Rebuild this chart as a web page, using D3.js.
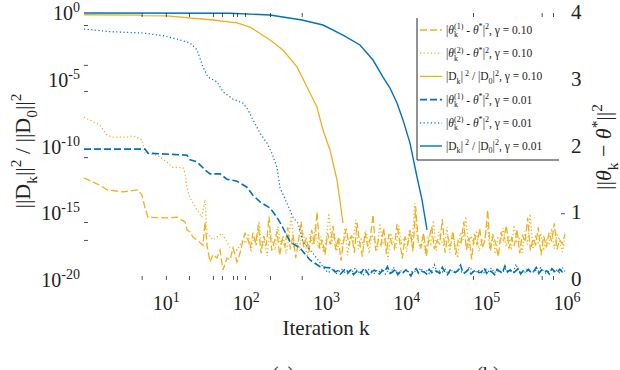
<!DOCTYPE html>
<html>
<head>
<meta charset="utf-8">
<script src="https://cdn.jsdelivr.net/npm/d3@7"></script>
<style>
	body { margin: 0; background: #fff; }
	svg { display: block; }
</style>
</head>
<body>
<div id="chart"></div>
<script>
'use strict';

// ---- data ----
// ||D_k||^2 / ||D_0||^2, left (log) axis
var dGamma001 = [[1, 1], [66, 0.95], [209, 0.71], [524, 0.30], [957, 0.126], [1702, 0.0224],
	[2773, 4e-3], [4028, 3e-4], [5370, 1.6e-5], [6561, 2.4e-6], [8020, 1.8e-7], [9530, 9.8e-9],
	[11650, 1.8e-10], [14250, 5.2e-13], [16450, 1e-14], [19000, 5.6e-17]];
var dGamma010 = [[1, 0.74], [5, 0.70], [5.2, 0.63], [10.8, 0.60], [40.6, 0.30], [81, 0.18],
	[118, 0.089], [209, 9.5e-3], [303, 1.7e-3], [454, 9.1e-5], [605, 2.9e-6], [805, 9.1e-8],
	[957, 1.7e-9], [1170, 5.5e-11], [1432, 3.1e-13], [1702, 1.9e-16]];

// ||theta_k - theta*||^2, right (linear) axis: decay part
var th1Gamma001 = [[1, 1.96], [5.77, 1.96], [6.29, 1.90], [19.3, 1.87], [21, 1.80], [25.7, 1.77],
	[32.3, 1.65], [37.3, 1.59], [49.7, 1.59], [60.8, 1.51], [81, 1.48], [108, 1.39], [128, 1.27],
	[157, 1.17], [209, 1.08], [255, 0.94], [295, 0.81], [372, 0.57], [494, 0.48], [659, 0.30],
	[879, 0.20], [1170, 0.18]];
var th2Gamma001 = [[1, 3.76], [2.11, 3.72], [5.44, 3.70], [9.67, 3.66], [14.5, 3.61], [21, 3.55],
	[25.7, 3.45], [30.5, 3.19], [35.2, 3.04], [45.6, 2.97], [54.2, 2.82], [72.3, 2.71], [96.2, 2.65],
	[111, 2.55], [128, 2.40], [157, 2.20], [192, 2.05], [221, 1.90], [255, 1.69], [279, 1.38],
	[340, 1.15], [405, 0.94], [467, 0.85], [539, 0.57], [718, 0.40], [879, 0.26]];
var th1Gamma010 = [[1, 1.53], [1.58, 1.42], [1.94, 1.35], [3.07, 1.32], [4.72, 1.35], [5.29, 1.27],
	[5.77, 1.08], [6.29, 0.94], [10.8, 0.93], [14.5, 0.94], [18.2, 0.87], [19.3, 0.75], [21, 0.72],
	[22.9, 0.64], [25.7, 0.60], [30.5, 0.52], [32.3, 0.87], [34.2, 0.52], [37.3, 0.27], [40.6, 0.38],
	[45.6, 0.33], [49.7, 0.45], [54.2, 0.15], [60.8, 0.33], [66.3, 0.30], [72.3, 0.48], [81, 0.27],
	[88.3, 0.40], [96.2, 0.60], [102, 0.70]];
var th2Gamma010 = [[1, 2.44], [1.58, 2.32], [1.94, 2.17], [2.3, 2.14], [3.44, 2.14], [4.09, 2.16],
	[5.29, 2.10], [5.77, 1.90], [8.14, 1.87], [10.8, 1.77], [12.5, 1.69], [17.2, 1.68], [18.2, 1.60],
	[19.3, 1.38], [21, 1.23], [25.7, 1.05], [29.6, 0.94], [32.3, 1.20], [34.2, 0.70], [40.6, 0.60],
	[52.6, 0.70], [66.3, 0.49], [81, 0.45], [96.2, 0.60]];

// noisy floors after convergence (one value per sample, samples log-spaced in k up to 1e6)
var th1Gamma010Tail = [0.62, 0.48, 0.71, 0.55, 0.83, 0.40, 0.66, 0.52, 0.95, 0.44, 0.58, 0.73, 0.37, 0.61, 0.50, 0.79, 0.46, 0.68, 0.33, 0.57,
	0.88, 0.49, 0.63, 0.42, 0.75, 0.54, 1.02, 0.47, 0.60, 0.38, 0.70, 0.53, 0.81, 0.45, 0.64, 0.29, 0.59, 0.77, 0.51, 0.67,
	0.41, 0.86, 0.56, 0.35, 0.72, 0.50, 0.63, 0.98, 0.44, 0.60, 0.52, 0.78, 0.39, 0.69, 0.55, 0.47, 0.84, 0.58, 0.32, 0.65,
	0.53, 0.74, 0.43, 1.10, 0.57, 0.49, 0.70, 0.36, 0.62, 0.80, 0.46, 0.59, 0.54, 0.91, 0.41, 0.66, 0.50, 0.73, 0.38, 0.61,
	0.56, 0.87, 0.45, 0.64, 0.31, 0.69, 0.52, 0.77, 0.48, 0.60, 1.05, 0.43, 0.67, 0.55, 0.35, 0.72, 0.58, 0.82, 0.47, 0.63,
	0.51, 0.76, 0.40, 0.68, 0.57, 0.93, 0.44, 0.62, 0.53, 0.79, 0.37, 0.66, 0.49, 0.71, 0.58, 0.85, 0.46, 0.60, 0.54, 0.69];
var th2Gamma010Tail = [0.55, 0.70, 0.42, 0.64, 0.51, 0.88, 0.47, 0.60, 0.36, 0.73, 0.58, 0.45, 0.80, 0.53, 0.67, 0.39, 0.62, 0.96, 0.50, 0.57,
	0.44, 0.75, 0.61, 0.34, 0.69, 0.52, 0.83, 0.48, 0.65, 0.41, 0.58, 1.00, 0.54, 0.71, 0.43, 0.63, 0.49, 0.78, 0.37, 0.66,
	0.56, 0.90, 0.46, 0.61, 0.52, 0.74, 0.40, 0.68, 0.59, 0.45, 0.85, 0.53, 0.64, 0.30, 0.70, 0.57, 0.48, 0.81, 0.55, 0.62,
	0.42, 0.76, 0.51, 1.15, 0.60, 0.47, 0.68, 0.38, 0.63, 0.54, 0.89, 0.44, 0.72, 0.58, 0.50, 0.79, 0.41, 0.65, 0.56, 0.33,
	0.71, 0.60, 0.95, 0.48, 0.66, 0.52, 0.74, 0.43, 0.61, 0.57, 0.86, 0.46, 0.69, 0.39, 0.63, 0.55, 0.78, 0.50, 0.67, 0.45,
	0.82, 0.58, 0.62, 0.41, 0.73, 0.53, 0.99, 0.48, 0.65, 0.56, 0.70, 0.44, 0.61, 0.52, 0.77, 0.47, 0.68, 0.59, 0.42, 0.64];
var th1Gamma001Tail = [0.16, 0.12, 0.14, 0.09, 0.13, 0.17, 0.11, 0.15, 0.08, 0.12, 0.14, 0.10, 0.18, 0.13, 0.07, 0.12, 0.15, 0.11, 0.09, 0.14,
	0.13, 0.20, 0.10, 0.12, 0.16, 0.08, 0.13, 0.11, 0.15, 0.12, 0.06, 0.14, 0.17, 0.10, 0.13, 0.12, 0.09, 0.16, 0.11, 0.14,
	0.13, 0.10, 0.19, 0.12, 0.08, 0.15, 0.13, 0.11, 0.14, 0.22, 0.10, 0.12, 0.16, 0.09, 0.13, 0.15, 0.11, 0.12, 0.18, 0.10,
	0.14, 0.12, 0.08, 0.16, 0.13, 0.11, 0.21, 0.12, 0.15, 0.10, 0.13, 0.17, 0.09, 0.14, 0.12, 0.16, 0.11, 0.13, 0.19, 0.10,
	0.15, 0.12, 0.14, 0.09, 0.17, 0.13, 0.11, 0.16, 0.12, 0.14];
var th2Gamma001Tail = [0.20, 0.15, 0.11, 0.14, 0.17, 0.10, 0.13, 0.16, 0.12, 0.09, 0.15, 0.13, 0.18, 0.11, 0.14, 0.08, 0.12, 0.16, 0.13, 0.10,
	0.15, 0.12, 0.17, 0.09, 0.14, 0.11, 0.19, 0.13, 0.10, 0.15, 0.12, 0.16, 0.08, 0.14, 0.13, 0.11, 0.18, 0.12, 0.15, 0.10,
	0.13, 0.23, 0.11, 0.14, 0.12, 0.16, 0.09, 0.13, 0.15, 0.11, 0.17, 0.12, 0.10, 0.14, 0.20, 0.13, 0.11, 0.15, 0.12, 0.09,
	0.16, 0.13, 0.18, 0.11, 0.14, 0.12, 0.10, 0.17, 0.13, 0.15, 0.11, 0.24, 0.12, 0.14, 0.10, 0.16, 0.13, 0.11, 0.15, 0.12,
	0.18, 0.14, 0.10, 0.13, 0.16, 0.12, 0.15, 0.11, 0.19, 0.13];

// ticks
var xLabelVals = [1e1, 1e2, 1e3, 1e4, 1e5, 1e6];
var xTickVals = [5.24, 10.5, 20.4, 40.6, 52.6, 72.3, 81, 102, 209, 520, 71200, 5.12e5, 7.08e5];
var yLeftLabelVals = [1, 1e-5, 1e-10, 1e-15, 1e-20];
var yLeftTickVals = [0.126, 1.3e-4, 1.45e-6, 1.6e-11, 2.2e-16, 1e-17];
var yRightLabelVals = [0, 1, 2, 3, 4];
var yRightTickVals = [1];

var kMax = 1e6;

// ---- svg ----
var width = 620, height = 370;
var orange = '#EDB120', blue = '#0072BD';
var serif = "'Liberation Serif'";

var svg = d3.select('#chart').append('svg')
	.attr('width', width)
	.attr('height', height);

var x = d3.scaleLog().domain([1, kMax]).range([84, 565]);
var yL = d3.scaleLog().domain([1e-20, 1]).range([280, 13]);
var yR = d3.scaleLinear().domain([0, 4]).range([280, 13]);

// head points followed by the noisy floor, spread evenly in log k up to kMax
function withTail(head, tail) {
	var k0 = head[head.length - 1][0];
	var pts = head.slice();
	tail.forEach(function (v, i) {
		pts.push([k0 * Math.pow(kMax / k0, (i + 1) / tail.length), v]);
	});
	return pts;
}

function label(sel) {
	return sel.style('font-family', serif).attr('fill', '#222');
}

// text with sub/superscripts built from tspans
function rich(t, segs, size) {
	var cur = 0, padX = 0;
	label(t);
	segs.forEach(function (s) {
		var kind = s[1] || '';
		if (kind === 'stack') {
			var up = t.append('tspan').attr('font-size', size * 0.7)
				.attr('dy', -size * 0.4 - cur).text(s[0][0]);
			if (padX) up.attr('dx', padX);
			var w1 = up.node().getComputedTextLength();
			var dn = t.append('tspan').attr('font-size', size * 0.7)
				.attr('dx', -w1).attr('dy', size * 0.7).text(s[0][1]);
			var w2 = dn.node().getComputedTextLength();
			cur = size * 0.3;
			padX = Math.max(0, w1 - w2);
			return;
		}
		var small = kind === 'sup' || kind === 'sub';
		var shift = kind === 'sup' ? -size * 0.4 : kind === 'sub' ? size * 0.3 : 0;
		var ts = t.append('tspan')
			.attr('font-size', small ? size * 0.7 : size)
			.attr('dy', shift - cur)
			.text(s[0]);
		if (kind === 'i') ts.attr('font-style', 'italic');
		if (padX) ts.attr('dx', padX);
		padX = 0;
		cur = shift;
	});
}

// ---- lines ----
var series = [
	{ data: withTail(th1Gamma010, th1Gamma010Tail), y: yR, color: orange, dash: '7,3', w: 1.3 },
	{ data: withTail(th2Gamma010, th2Gamma010Tail), y: yR, color: orange, dash: '1.2,2.4', w: 1.3 },
	{ data: dGamma010, y: yL, color: orange, dash: null, w: 1.3 },
	{ data: withTail(th1Gamma001, th1Gamma001Tail), y: yR, color: blue, dash: '7,3', w: 1.6 },
	{ data: withTail(th2Gamma001, th2Gamma001Tail), y: yR, color: blue, dash: '1.2,2.4', w: 1.2 },
	{ data: dGamma001, y: yL, color: blue, dash: null, w: 1.4 }
];

series.forEach(function (s) {
	var line = d3.line()
		.x(function (d) { return x(d[0]); })
		.y(function (d) { return s.y(d[1]); });
	svg.append('path')
		.datum(s.data)
		.attr('d', line)
		.attr('fill', 'none')
		.attr('stroke', s.color)
		.attr('stroke-width', s.w)
		.attr('stroke-dasharray', s.dash);
});

// ---- axes (tick marks only, no axis lines) ----
function ticksOnly(g) {
	g.select('.domain').remove();
	g.selectAll('.tick line').attr('stroke', '#262626').attr('stroke-width', 0.8);
}
svg.append('g').attr('transform', 'translate(0,280)')
	.call(d3.axisBottom(x).tickValues(xTickVals).tickSizeInner(-4).tickSizeOuter(0).tickFormat(''))
	.call(ticksOnly);
svg.append('g').attr('transform', 'translate(0,13)')
	.call(d3.axisTop(x).tickValues(xTickVals).tickSizeInner(-4).tickSizeOuter(0).tickFormat(''))
	.call(ticksOnly);
svg.append('g').attr('transform', 'translate(84,0)')
	.call(d3.axisLeft(yL).tickValues(yLeftTickVals).tickSizeInner(-4).tickSizeOuter(0).tickFormat(''))
	.call(ticksOnly);
svg.append('g').attr('transform', 'translate(565,0)')
	.call(d3.axisRight(yR).tickValues(yRightTickVals).tickSizeInner(-4).tickSizeOuter(0).tickFormat(''))
	.call(ticksOnly);

// tick labels
svg.selectAll('.xlab').data(xLabelVals).enter().append('text')
	.attr('class', 'xlab')
	.attr('x', function (d) { return x(d) + 2; })
	.attr('y', 310)
	.attr('text-anchor', 'middle')
	.each(function (d) {
		rich(d3.select(this), [['10'], [String(Math.round(Math.log10(d))), 'sup']], 20);
	});

svg.selectAll('.ylab').data(yLeftLabelVals).enter().append('text')
	.attr('class', 'ylab')
	.attr('x', 80)
	.attr('y', function (d) { return yL(d) + 7; })
	.attr('text-anchor', 'end')
	.each(function (d) {
		rich(d3.select(this), [['10'], [String(Math.round(Math.log10(d))), 'sup']], 20);
	});

svg.selectAll('.rlab').data(yRightLabelVals).enter().append('text')
	.attr('class', 'rlab')
	.attr('x', 571)
	.attr('y', function (d) { return yR(d) + 6; })
	.attr('font-size', 21)
	.call(label)
	.text(function (d) { return d; });

// axis titles
svg.append('text')
	.attr('x', 326).attr('y', 335)
	.attr('text-anchor', 'middle')
	.attr('font-size', 21)
	.call(label)
	.text('Iteration k');

var yTitle = svg.append('text')
	.attr('transform', 'translate(30,151) rotate(-90)')
	.attr('text-anchor', 'middle');
rich(yTitle, [['||D'], ['k', 'sub'], ['||'], ['2', 'sup'], [' / ||D'], ['0', 'sub'], ['||'], ['2', 'sup']], 22);

var y2Title = svg.append('text')
	.attr('transform', 'translate(611,147) rotate(-90)')
	.attr('text-anchor', 'middle');
rich(y2Title, [['||'], ['θ', 'i'], ['k', 'sub'], [' − '], ['θ', 'i'], ['*', 'sup'], ['||'], ['2', 'sup']], 22);

// sub-figure captions, mostly cut off by the bottom edge
svg.selectAll('.cap').data(['(a)', '(b)']).enter().append('text')
	.attr('x', function (d, i) { return [283, 488][i]; })
	.attr('y', 381)
	.attr('text-anchor', 'middle')
	.attr('font-size', 20)
	.call(label)
	.text(function (d) { return d; });

// ---- legend ----
var legendLabels = [
	[['|'], ['θ', 'i'], [['(1)', 'k'], 'stack'], [' - '], ['θ', 'i'], ['*', 'sup'], ['|'], ['2', 'sup'], [', γ = 0.10']],
	[['|'], ['θ', 'i'], [['(2)', 'k'], 'stack'], [' - '], ['θ', 'i'], ['*', 'sup'], ['|'], ['2', 'sup'], [', γ = 0.10']],
	[['|D'], ['k', 'sub'], ['|'], [' 2', 'sup'], [' / |D'], ['0', 'sub'], ['|'], ['2', 'sup'], [', γ = 0.10']],
	[['|'], ['θ', 'i'], [['(1)', 'k'], 'stack'], [' - '], ['θ', 'i'], ['*', 'sup'], ['|'], ['2', 'sup'], [', γ = 0.01']],
	[['|'], ['θ', 'i'], [['(2)', 'k'], 'stack'], [' - '], ['θ', 'i'], ['*', 'sup'], ['|'], ['2', 'sup'], [', γ = 0.01']],
	[['|D'], ['k', 'sub'], ['|'], [' 2', 'sup'], [' / |D'], ['0', 'sub'], ['|'], ['2', 'sup'], [', γ = 0.01']]
];

var leg = svg.append('g');
leg.append('rect').attr('x', 417).attr('y', 18).attr('width', 142).attr('height', 142).attr('fill', '#fff');
leg.append('path').attr('d', 'M417,18V160H559').attr('fill', 'none').attr('stroke', '#262626').attr('stroke-width', 1);

legendLabels.forEach(function (lab, i) {
	var s = series[i];
	var yy = 30 + i * 23.2;
	leg.append('line')
		.attr('x1', 420).attr('x2', 442).attr('y1', yy).attr('y2', yy)
		.attr('stroke', s.color)
		.attr('stroke-width', s.w)
		.attr('stroke-dasharray', s.dash);
	var t = leg.append('text').attr('x', 446).attr('y', yy + 4);
	rich(t, lab, 11.5);
});
</script>
</body>
</html>
